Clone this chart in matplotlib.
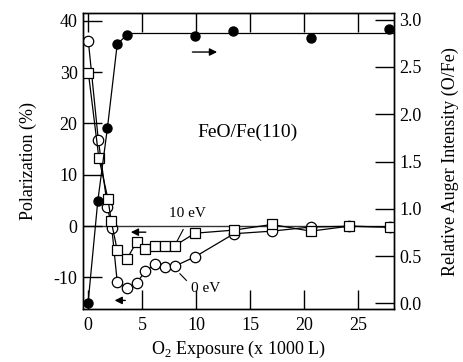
import matplotlib
matplotlib.use("Agg")
import matplotlib.pyplot as plt

plt.rcParams['font.family'] = ['Liberation Serif', 'DejaVu Serif']
plt.rcParams['mathtext.fontset'] = 'custom'
plt.rcParams['mathtext.rm'] = 'Liberation Serif'
plt.rcParams['axes.unicode_minus'] = False
plt.rcParams['font.size'] = 13

# O2 exposure (x 1000 L)
x_0ev = [0.03, 0.95, 1.8, 2.2, 2.7, 3.6, 4.5, 5.3, 6.2, 7.1, 8.05, 9.9, 13.5, 17.0, 20.6, 24.1, 27.9]
pol_0ev = [36.0, 16.8, 3.7, -0.4, -10.9, -12.0, -11.1, -8.8, -7.5, -8.0, -7.8, -6.0, -1.5, -1.0, -0.2, -0.05, -0.2]

x_10ev = [0.03, 1.0, 1.85, 2.15, 2.7, 3.6, 4.5, 5.3, 6.2, 7.1, 8.05, 9.9, 13.5, 17.0, 20.6, 24.1, 27.9]
pol_10ev = [29.9, 13.3, 5.2, 0.9, -4.7, -6.4, -3.1, -4.4, -3.8, -3.9, -3.8, -1.4, -0.8, 0.3, -1.0, -0.05, -0.2]

x_auger = [0.0, 0.9, 1.8, 2.7, 3.6, 9.9, 13.45, 20.6, 27.8]
auger = [0.0, 1.08, 1.86, 2.74, 2.84, 2.83, 2.88, 2.81, 2.90]
auger_sat = 2.855
n_rise = 5

fig = plt.figure(figsize=(4.64, 3.62), dpi=100)
ax = fig.add_axes([0.179, 0.146, 0.670, 0.818])
ax2 = ax.twinx()

ax.axhline(0, color='#333333', lw=1.0, zorder=1)

ax.plot(x_10ev, pol_10ev, '-', color='black', lw=0.9, marker='s', ms=7,
        mfc='white', mec='black', mew=0.9, zorder=3)
ax.plot(x_0ev, pol_0ev, '-', color='black', lw=0.9, marker='o', ms=7.5,
        mfc='white', mec='black', mew=0.9, zorder=2)

ax2.plot(x_auger[:n_rise], auger[:n_rise], '-', color='black', lw=0.9)
ax2.plot([x_auger[n_rise - 1], 28.3], [auger_sat, auger_sat], '-', color='black', lw=0.9)
ax2.plot(x_auger, auger, 'o', color='black', ms=6.5, clip_on=False, zorder=4)

ax.set_xlim(-0.46, 28.3)
ax.set_ylim(-16.2, 41.5)
ax2.set_ylim(-0.06, 3.07)

ax.set_xticks([0, 5, 10, 15, 20, 25])
ax.set_yticks([-10, 0, 10, 20, 30, 40])
ax2.set_yticks([0.0, 0.5, 1.0, 1.5, 2.0, 2.5, 3.0])
ax2.set_yticklabels(['0.0', '0.5', '1.0', '1.5', '2.0', '2.5', '3.0'])

ax.tick_params(axis='x', direction='in', top=True, bottom=True, length=14, width=1, pad=6)
ax.tick_params(axis='y', direction='in', left=True, right=False, length=14, width=1, pad=4)
ax2.tick_params(axis='y', direction='in', right=True, length=14, width=1, pad=4)
ax2.tick_params(axis='x', top=False, bottom=False)

for a in (ax, ax2):
    for s in a.spines.values():
        s.set_linewidth(1.0)

ax.set_xlabel('O$_2$ Exposure (x 1000 L)', labelpad=3)
ax.set_ylabel('Polarization (%)', labelpad=12)
ax2.set_ylabel('Relative Auger Intensity (O/Fe)', labelpad=14)

ax.text(10.1, 18.3, 'FeO/Fe(110)', fontsize=14, va='center', ha='left')
ax.text(9.2, 2.5, '10 eV', fontsize=11, ha='center', va='center')
ax.text(10.9, -12.1, '0 eV', fontsize=11, ha='center', va='center')
ax.plot([8.2, 8.8], [-3.1, -0.7], color='black', lw=0.8)
ax.plot([8.5, 9.1], [-9.3, -10.6], color='black', lw=0.8)

arrow_kw = dict(arrowstyle='-|>', color='black', lw=1.0, mutation_scale=11)
ax.annotate('', xy=(12.2, 33.9), xytext=(9.4, 33.9), arrowprops=arrow_kw)
ax.annotate('', xy=(3.7, -1.2), xytext=(5.6, -1.2), arrowprops=arrow_kw)
ax.annotate('', xy=(2.2, -14.5), xytext=(3.7, -14.5), arrowprops=arrow_kw)

fig.savefig('out.png', dpi=100)
